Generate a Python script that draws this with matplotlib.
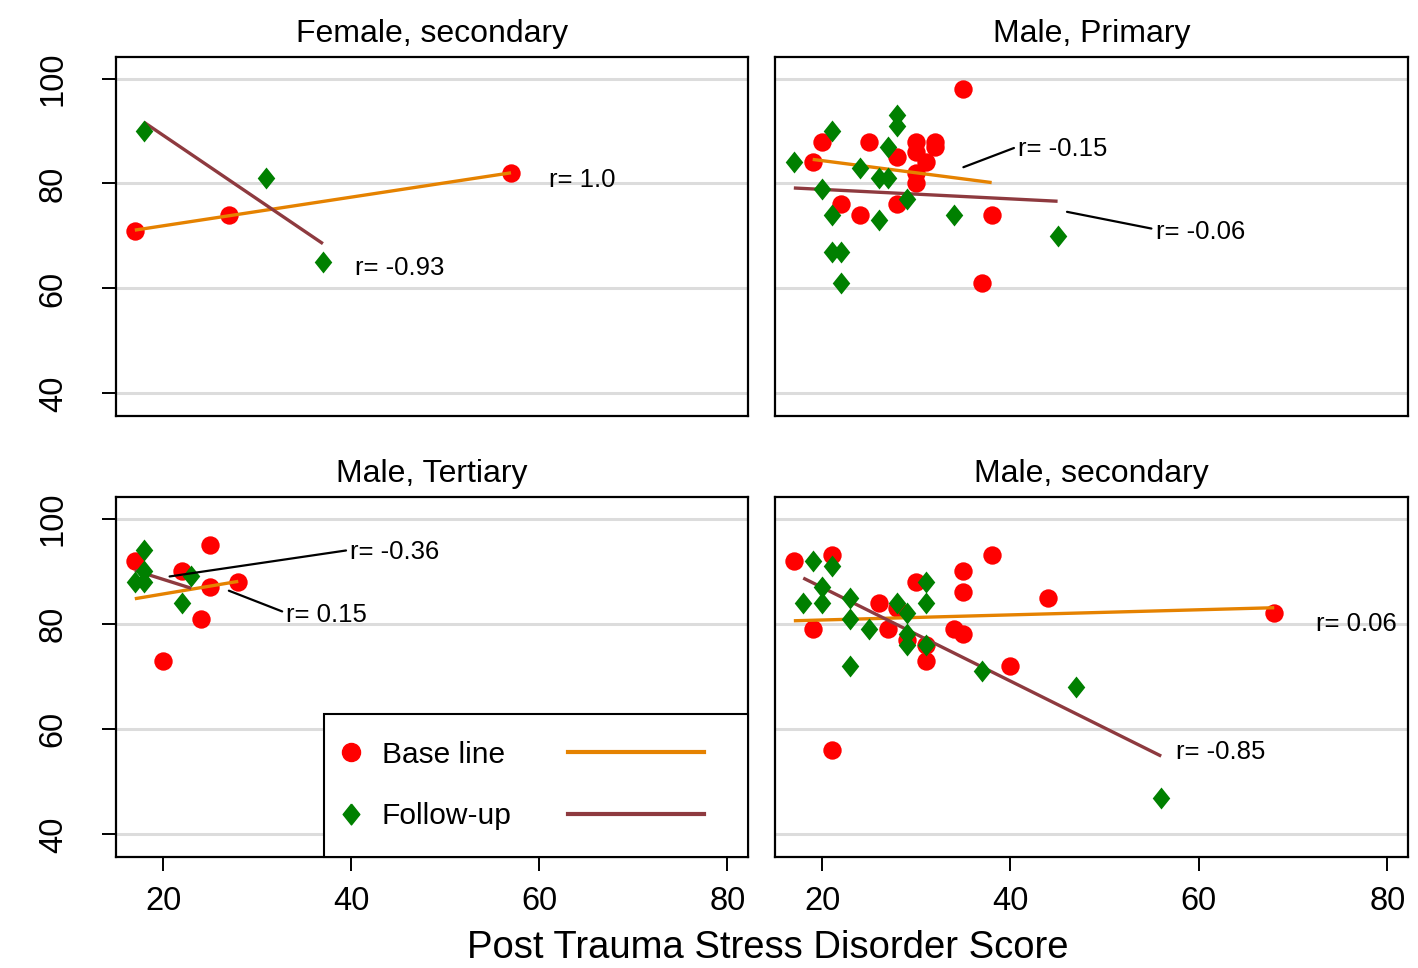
import matplotlib
matplotlib.use("Agg")
import matplotlib.pyplot as plt
import numpy as np
from matplotlib.lines import Line2D
from matplotlib.legend_handler import HandlerLine2D

plt.rcParams['font.family'] = ['Liberation Sans', 'DejaVu Sans']

# data: (x = PTSD score, y = outcome score), per panel and time point
fs_base_x = [17, 27, 57]
fs_base_y = [71, 74, 82]
fs_fu_x = [18, 31, 37]
fs_fu_y = [90, 81, 65]

mp_base_x = [35, 20, 25, 30, 32, 32, 30, 28, 31, 19, 30, 30, 22, 24, 28, 38, 37]
mp_base_y = [98, 88, 88, 88, 88, 87, 86, 85, 84, 84, 82, 80, 76, 74, 76, 74, 61]
mp_fu_x = [28, 28, 21, 27, 17, 24, 26, 27, 20, 29, 21, 26, 34, 21, 22, 22, 45]
mp_fu_y = [93, 91, 90, 87, 84, 83, 81, 81, 79, 77, 74, 73, 74, 67, 67, 61, 70]

mt_base_x = [17, 25, 22, 25, 28, 24, 20]
mt_base_y = [92, 95, 90, 87, 88, 81, 73]
mt_fu_x = [18, 18, 17, 18, 23, 22]
mt_fu_y = [94, 90, 88, 88, 89, 84]

ms_base_x = [17, 21, 19, 26, 27, 28, 30, 35, 35, 38, 34, 35, 29, 31, 31, 40, 44, 68, 21]
ms_base_y = [92, 93, 79, 84, 79, 83, 88, 90, 86, 93, 79, 78, 77, 76, 73, 72, 85, 82, 56]
ms_fu_x = [19, 21, 20, 18, 20, 23, 23, 25, 28, 29, 31, 31, 29, 29, 31, 23, 37, 47, 56]
ms_fu_y = [92, 91, 87, 84, 84, 85, 81, 79, 84, 82, 88, 84, 78, 76, 76, 72, 71, 68, 47]

titles = ["Female, secondary", "Male, Primary", "Male, Tertiary", "Male, secondary"]
x_ticks = [20, 40, 60, 80]
y_ticks = [40, 60, 80, 100]

# r labels: (text, text_x, text_y, leader start or None)
r_labels = [
    [("r= 1.0", 61.0, 80.7, None), ("r= -0.93", 40.4, 63.9, None)],
    [("r= -0.15", 40.8, 86.6, (35.0, 83.1)), ("r= -0.06", 55.4, 70.8, (46.0, 74.6))],
    [("r= -0.36", 39.9, 93.6, (20.7, 89.0)), ("r= 0.15", 33.1, 81.6, (27.0, 86.3))],
    [("r= 0.06", 72.4, 80.0, None), ("r= -0.85", 57.6, 55.7, None)],
]

panels = [
    (fs_base_x, fs_base_y, fs_fu_x, fs_fu_y),
    (mp_base_x, mp_base_y, mp_fu_x, mp_fu_y),
    (mt_base_x, mt_base_y, mt_fu_x, mt_fu_y),
    (ms_base_x, ms_base_y, ms_fu_x, ms_fu_y),
]

RED = '#FF0000'
GREEN = '#008000'
ORANGE = '#E58200'
MAROON = '#8E3A3F'
diamond = [(0, 1), (0.8, 0), (0, -1), (-0.8, 0), (0, 1)]

W, H = 1418, 968
fig = plt.figure(figsize=(W / 100, H / 100), dpi=100)
rects = [(116, 57, 748, 416), (775, 57, 1408, 416),
         (116, 497, 748, 857), (775, 497, 1408, 857)]


def fit_line(ax, x, y, color):
    x = np.asarray(x, float)
    y = np.asarray(y, float)
    b, a = np.polyfit(x, y, 1)
    xs = np.array([x.min(), x.max()])
    ax.plot(xs, a + b * xs, color=color, lw=2.4, zorder=3, solid_capstyle='butt')


axes = []
for i, (l, t, r, b) in enumerate(rects):
    ax = fig.add_axes([l / W, 1 - b / H, (r - l) / W, (b - t) / H])
    axes.append(ax)
    bx, by, fx, fy = panels[i]
    ax.scatter(bx, by, s=175, c=RED, marker='o', lw=0, zorder=2)
    fit_line(ax, bx, by, ORANGE)
    ax.scatter(fx, fy, s=250, c=GREEN, marker=diamond, lw=0, zorder=4)
    fit_line(ax, fx, fy, MAROON)

    for txt, tx, ty, lead in r_labels[i]:
        if lead is None:
            ax.text(tx, ty, txt, fontsize=18.5, ha='left', va='center', zorder=6)
        else:
            ax.annotate(txt, xy=lead, xytext=(tx, ty), fontsize=18.5,
                        ha='left', va='center', zorder=6,
                        arrowprops=dict(arrowstyle='-', color='black', lw=1.6,
                                        shrinkA=1, shrinkB=0, relpos=(0, 0.6)))

    ax.set_xlim(15, 82.2)
    ax.set_ylim(35.7, 104.1)
    ax.set_xticks(x_ticks)
    ax.set_yticks(y_ticks)
    ax.grid(axis='y', color='#DCDCDC', lw=2.2, zorder=0)
    ax.set_axisbelow(True)
    for sp in ax.spines.values():
        sp.set_linewidth(1.6)
    ax.set_title(titles[i], fontsize=23, pad=11)
    ax.tick_params(axis='both', direction='out', length=10, width=1.4, labelsize=23.5)
    ax.tick_params(axis='x', pad=11)
    ax.tick_params(axis='y', pad=24, labelrotation=90)
    for lab in ax.get_yticklabels():
        lab.set_va('center')
    if i < 2:
        ax.tick_params(axis='x', length=0, labelbottom=False)
    if i % 2 == 1:
        ax.tick_params(axis='y', length=0, labelleft=False)


class SmallMarkerHandler(HandlerLine2D):
    def legend_artist(self, legend, orig_handle, fontsize, handlebox):
        handlebox.width = 0.02 * fontsize
        return super().legend_artist(legend, orig_handle, fontsize, handlebox)


class LongLineHandler(HandlerLine2D):
    # line sample runs a little past its box, into the empty label's gap
    def create_artists(self, legend, orig_handle, xdescent, ydescent,
                       width, height, fontsize, trans):
        return super().create_artists(legend, orig_handle, xdescent, ydescent,
                                      width + 0.44 * fontsize, height, fontsize, trans)


h_base = Line2D([], [], ls='none', marker='o', ms=13, color=RED, mec=RED)
h_fu = Line2D([], [], ls='none', marker=diamond, ms=15, color=GREEN, mec=GREEN)
h_lb = Line2D([], [], color=ORANGE, lw=3)
h_lf = Line2D([], [], color=MAROON, lw=3)
leg = axes[2].legend([h_base, h_fu, h_lb, h_lf], ['Base line', 'Follow-up', '', ''],
                     ncol=2, loc='lower right', borderaxespad=0, fontsize=21.5,
                     handlelength=4.1, handletextpad=1.02, columnspacing=1.89,
                     labelspacing=1.12, borderpad=0.9, fancybox=False,
                     framealpha=1, edgecolor='black',
                     handler_map={h_base: SmallMarkerHandler(numpoints=1),
                                  h_fu: SmallMarkerHandler(numpoints=1),
                                  h_lb: LongLineHandler(),
                                  h_lf: LongLineHandler()})
leg.get_frame().set_linewidth(1.5)
leg.set_zorder(10)

fig.text(768 / W, 1 - 948 / H, "Post Trauma Stress Disorder Score",
         fontsize=27.5, ha='center', va='center')

fig.savefig("out.png", dpi=100, facecolor='white')
